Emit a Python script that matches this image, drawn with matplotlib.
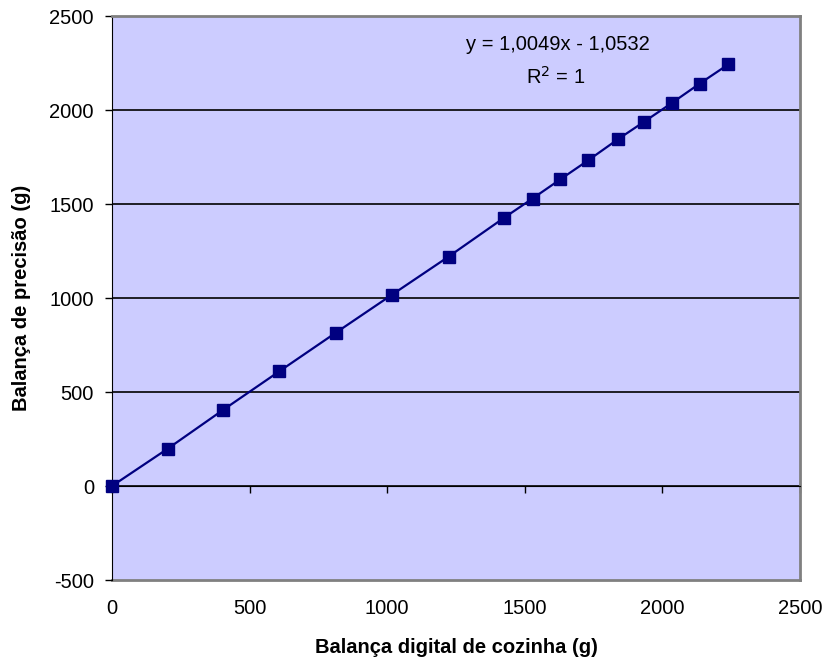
import matplotlib.pyplot as plt
import numpy as np

plt.rcParams['font.family'] = ['Liberation Sans', 'DejaVu Sans']
plt.rcParams['axes.unicode_minus'] = False

# kitchen scale vs precision scale readings (g)
cozinha = [0, 203, 403, 608, 814, 1018, 1223, 1426, 1528, 1629, 1731, 1838, 1934, 2036, 2135, 2240]
precisao = [0, 199, 404, 610, 816, 1018, 1220, 1428, 1529, 1631, 1733, 1844, 1938, 2039, 2140, 2243]

x_ticks = [0, 500, 1000, 1500, 2000, 2500]
y_ticks = [-500, 0, 500, 1000, 1500, 2000, 2500]

fs = 14.5

fig = plt.figure(figsize=(8.3, 6.68), dpi=100)
ax = fig.add_axes([112 / 830, 1 - 580 / 668, 688 / 830, 564 / 668])
ax.set_facecolor('#CCCCFF')

ax.set_xlim(0, 2500)
ax.set_ylim(-500, 2500)

# horizontal grid lines
for yv in y_ticks[1:-1]:
    ax.axhline(yv, color='black', lw=1.2, zorder=1)

ax.plot(cozinha, precisao, color='#000080', lw=1.6, marker='s', markersize=9,
        markerfacecolor='#000080', markeredgecolor='#000080', zorder=3, clip_on=False)

# x axis crossing at zero: ticks only, labels go to the bottom
ax.spines['bottom'].set_position(('data', 0))
ax.spines['bottom'].set_color('black')
ax.set_xticks(x_ticks)
ax.tick_params(axis='x', direction='out', length=5, width=1, labelbottom=False)

sec = ax.secondary_xaxis(0)
sec.set_xticks(x_ticks)
sec.tick_params(axis='x', length=0, pad=14, labelsize=fs)
sec.spines['bottom'].set_color('#808080')
sec.spines['bottom'].set_linewidth(2)
sec.set_xlabel('Balança digital de cozinha (g)', fontsize=fs, fontweight='bold', labelpad=14)

ax.set_yticks(y_ticks)
ax.tick_params(axis='y', direction='out', length=5, width=1, labelsize=fs, pad=8)
ax.set_ylabel('Balança de precisão (g)', fontsize=fs, fontweight='bold', labelpad=13)

ax.spines['left'].set_color('black')
for s in ['top', 'right']:
    ax.spines[s].set_color('#808080')
    ax.spines[s].set_linewidth(2)

ax.text(0.648, 0.9486, 'y = 1,0049x - 1,0532', transform=ax.transAxes,
        ha='center', va='center', fontsize=fs)
ax.text(0.645, 0.892, 'R$^2$ = 1', transform=ax.transAxes,
        ha='center', va='center', fontsize=fs)

fig.savefig('out.png', dpi=100)
